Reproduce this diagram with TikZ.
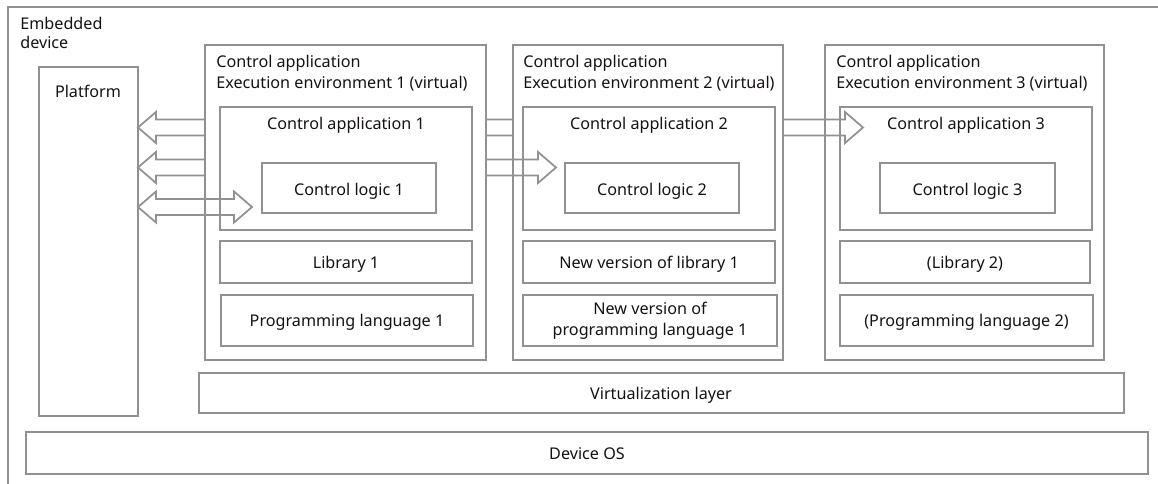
\documentclass[tikz,border=0pt]{standalone}
\usepackage{fontspec}
\setmainfont{Noto Sans}
\usetikzlibrary{fit,calc}
\definecolor{edge}{RGB}{145,145,145}
\definecolor{ink}{RGB}{20,18,18}

% outlined "fat" double-headed arrow between two tips on the same height
\newcommand\fatpair[2]{%
  \draw[fat] (#1) -- ($(#1)+(18,-15.5)$) -- ($(#1)+(18,-8)$) -- ($(#2)+(-18,-8)$)
    -- ($(#2)+(-18,-15.5)$) -- (#2) -- ($(#2)+(-18,15.5)$) -- ($(#2)+(-18,8)$)
    -- ($(#1)+(18,8)$) -- ($(#1)+(18,15.5)$) -- cycle;}

\begin{document}
\begin{tikzpicture}[x=0.02cm,y=-0.02cm,
  box/.style={draw=edge, line width=1pt, fill=white, inner sep=0pt, outer sep=0pt},
  txt/.style={text=ink, inner sep=0pt, font=\fontsize{9.2}{11.3}\selectfont},
  fat/.style={draw=edge, line width=1pt, line join=miter}]

\useasboundingbox (0,0) rectangle (1158,483);

% embedded device frame (runs off the page to the right and bottom)
\draw[edge, line width=1pt] (8,490) -- (8,7) -- (1170,7);
\node[txt, anchor=base west] (emb1) at (20,30) {Embedded};
\node[txt, anchor=base west] (emb2) at (20,49) {device};

% base layers
\node[box, fit={(26,432) (1148,474)}] (os) {};
\node[txt, anchor=base] (ost) at (587,459) {Device OS};
\node[box, fit={(199,373) (1124,413)}] (vl) {};
\node[txt, anchor=base] (vlt) at (661,399) {Virtualization layer};
\node[box, fit={(39,67) (138,416)}] (plat) {};
\node[txt, anchor=base] (platt) at (88,97) {Platform};

% execution environment 3
\node[box, fit={(825,45) (1104,360)}] (env3) {};
\node[txt, anchor=base west] (env3a) at (836,68) {Control application};
\node[txt, anchor=base west] (env3b) at (836,89) {Execution environment 3 (virtual)};
\node[box, fit={(840,107) (1092,230)}] (ca3) {};
\node[txt, anchor=base] (ca3t) at (966,129) {Control application 3};
\node[box, fit={(880,163) (1055,213)}] (cl3) {};
\node[txt, anchor=base] (cl3t) at (967.5,195) {Control logic 3};
\node[box, fit={(840,241) (1090,283)}] (lib3) {};
\node[txt, anchor=base] (lib3t) at (965,268) {(Library 2)};
\node[box, fit={(840,295) (1093,346)}] (pl3) {};
\node[txt, anchor=base] (pl3t) at (966.5,326) {(Programming language 2)};

% platform <-> control application 3 (passes behind environments 1 and 2)
\coordinate (aL) at (plat.east |- 0,127.5);
\coordinate (aR) at ($(ca3.west |- 0,127.5)+(23,0)$);
\fatpair{aL}{aR}

% execution environment 2
\node[box, fit={(513,45) (783,360)}] (env2) {};
\node[txt, anchor=base west] (env2a) at (523,68) {Control application};
\node[txt, anchor=base west] (env2b) at (523,89) {Execution environment 2 (virtual)};
\node[box, fit={(523,107) (775,230)}] (ca2) {};
\node[txt, anchor=base] (ca2t) at (649,129) {Control application 2};
\node[box, fit={(565,163) (739,213)}] (cl2) {};
\node[txt, anchor=base] (cl2t) at (652,195) {Control logic 2};
\node[box, fit={(523,241) (775,283)}] (lib2) {};
\node[txt, anchor=base] (lib2t) at (649,268) {New version of library 1};
\node[box, fit={(523,295) (777,346)}] (pl2) {};
\node[txt, anchor=base] (pl2a) at (650,314) {New version of};
\node[txt, anchor=base] (pl2b) at (650,335) {programming language 1};

% platform <-> control logic 2 (passes behind environment 1)
\coordinate (bL) at (plat.east |- 0,167.5);
\coordinate (bR) at ($(cl2.west |- 0,167.5)+(-9,0)$);
\fatpair{bL}{bR}

% execution environment 1
\node[box, fit={(205,45) (486,360)}] (env1) {};
\node[txt, anchor=base west] (env1a) at (216,68) {Control application};
\node[txt, anchor=base west] (env1b) at (216,89) {Execution environment 1 (virtual)};
\node[box, fit={(220,107) (472,230)}] (ca1) {};
\node[txt, anchor=base] (ca1t) at (346,129) {Control application 1};
\node[box, fit={(262,163) (436,213)}] (cl1) {};
\node[txt, anchor=base] (cl1t) at (349,195) {Control logic 1};
\node[box, fit={(220,241) (472,283)}] (lib1) {};
\node[txt, anchor=base] (lib1t) at (346,268) {Library 1};
\node[box, fit={(221,295) (473,346)}] (pl1) {};
\node[txt, anchor=base] (pl1t) at (347,326) {Programming language 1};

% platform <-> control logic 1
\coordinate (cL) at (plat.east |- 0,207);
\coordinate (cR) at ($(cl1.west |- 0,207)+(-10,0)$);
\fatpair{cL}{cR}

\end{tikzpicture}
\end{document}
